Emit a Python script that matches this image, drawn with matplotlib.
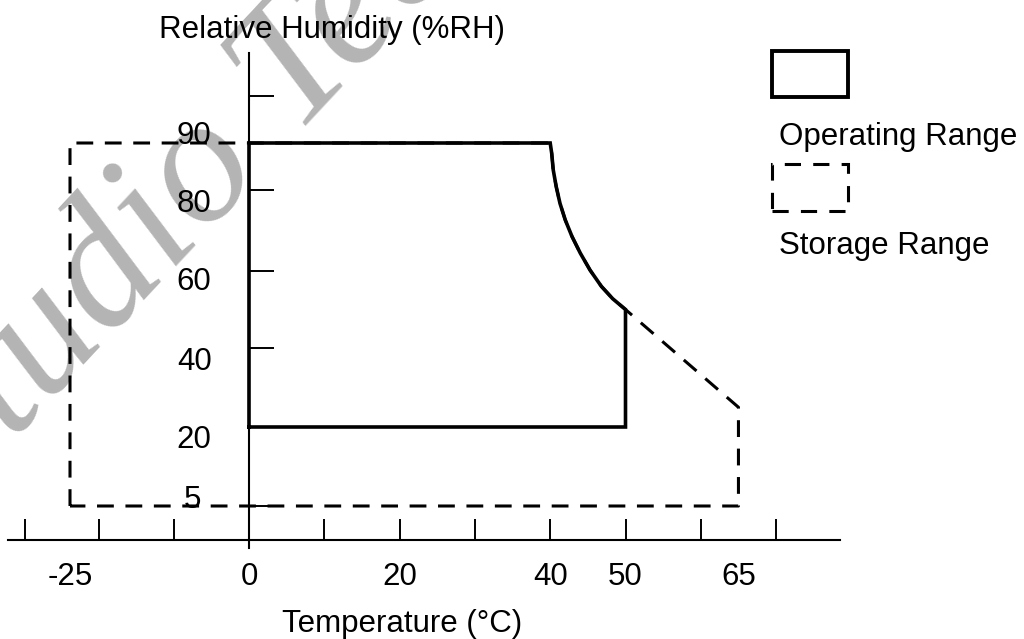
import matplotlib

matplotlib.use("Agg")
import matplotlib.pyplot as plt
import numpy as np
from matplotlib.patches import Rectangle
from matplotlib.transforms import ScaledTranslation

# bent edge between (40 C, 90 %RH) and (50 C, 50 %RH)
curve_temp = [40, 40.2, 40.4, 40.8, 41.3, 42.0, 42.9, 44.0, 45.3, 46.8, 48.3, 50]
curve_rh = [90, 87.8, 84.3, 80.7, 76.7, 72.6, 68.5, 64.4, 60.2, 56.0, 52.8, 50]

# operating range outline: temperature (degC) / relative humidity (%RH)
op_temp = [0, 0] + curve_temp + [50, 0]
op_rh = [20, 90] + curve_rh + [20, 20]

# storage range outline
st_temp = [-25, -25] + curve_temp + [65, 65, -25]
st_rh = [5, 90] + curve_rh + [25, 5, 5]

x_marks = [-30, -20, -10, 0, 10, 20, 30, 40, 50, 60, 70]
x_labels = [-25, 0, 20, 40, 50, 65]
y_marks = [5, 20, 40, 60, 80, 100]
y_labels = [5, 20, 40, 60, 80, 90]

W, H = 1024, 639

# the drawing is schematic, so the axes are only piecewise linear
X_KNOTS = [-40, -30, -25, -20, 0, 110]
X_PIX = [-50, 25, 70, 99, 249, 249 + 110 * 7.53]
Y_KNOTS = [-20, 0, 5, 20, 40, 60, 80, 90, 100, 130]
Y_PIX = [676, 540, 506, 427, 348, 271, 190, 143, 96, -45]
Y_UP = [H - p for p in Y_PIX]


def x_fwd(v):
    return np.interp(v, X_KNOTS, X_PIX)


def x_inv(p):
    return np.interp(p, X_PIX, X_KNOTS)


def y_fwd(v):
    return np.interp(v, Y_KNOTS, Y_UP)


def y_inv(p):
    return np.interp(p, Y_UP, Y_KNOTS)


plt.rcParams["font.family"] = ["Liberation Sans", "DejaVu Sans"]
FS = 22.5

fig = plt.figure(figsize=(W / 100, H / 100), dpi=100)
ax = fig.add_axes([0, 0, 1, 1])
ax.set_xscale("function", functions=(x_fwd, x_inv))
ax.set_yscale("function", functions=(y_fwd, y_inv))
ax.set_xlim(x_inv(0), x_inv(W))
ax.set_ylim(y_inv(0), y_inv(H))
ax.patch.set_visible(False)

# watermark
ax.text(205 / W, 1 - 171 / H, "Studio Tech", transform=ax.transAxes,
        family="Liberation Serif", style="italic", fontsize=130,
        color="#b4b4b4", rotation=47, rotation_mode="anchor",
        ha="center", va="center", zorder=0)

ax.plot(st_temp, st_rh, color="black", lw=2.2, dashes=(5.5, 3.8), zorder=2)
ax.plot(op_temp, op_rh, color="black", lw=2.6, solid_joinstyle="miter", zorder=3)

for s in ("top", "right"):
    ax.spines[s].set_visible(False)
ax.spines["left"].set_position(("data", 0))
ax.spines["bottom"].set_position(("data", 0))
ax.spines["left"].set_bounds(y_inv(H - 548), y_inv(H - 53))
ax.spines["bottom"].set_bounds(x_inv(8), x_inv(840))
for s in ("left", "bottom"):
    ax.spines[s].set_linewidth(1.5)
    ax.spines[s].set_zorder(2.5)

ax.xaxis.remove_overlapping_locs = False
ax.yaxis.remove_overlapping_locs = False
ax.set_xticks(x_labels, [str(v) for v in x_labels])
ax.set_xticks(x_marks, minor=True)
ax.set_yticks(y_labels, [str(v) for v in y_labels])
ax.set_yticks(y_marks, minor=True)
ax.tick_params(which="minor", direction="in", width=1.4, labelsize=0)
ax.tick_params(axis="x", which="minor", length=15)
ax.tick_params(axis="y", which="minor", length=18)
ax.tick_params(which="major", length=0, labelsize=FS)
ax.tick_params(axis="x", which="major", pad=16)
ax.tick_params(axis="y", which="major", pad=27)

# nudge the humidity labels the way they sit in the drawing
shift = {5: (-10, 10), 20: (0, -10), 40: (0, -10), 60: (0, -7), 80: (0, -10), 90: (0, 10)}
for val, lab in zip(y_labels, ax.get_yticklabels()):
    dx, dy = shift[val]
    lab.set_transform(lab.get_transform() + ScaledTranslation(dx / 100, dy / 100, fig.dpi_scale_trans))

ax.text(332 / W, 1 - 38 / H, "Relative Humidity (%RH)", transform=ax.transAxes,
        ha="center", va="baseline", fontsize=FS)
ax.text(402 / W, 1 - 632 / H, "Temperature (°C)", transform=ax.transAxes,
        ha="center", va="baseline", fontsize=FS)

# legend: box above its caption
fig.add_artist(Rectangle((772 / W, 1 - 97 / H), 76 / W, 46 / H, transform=fig.transFigure,
                         fill=False, lw=2.8, ec="black", joinstyle="miter"))
fig.add_artist(Rectangle((772 / W, 1 - 211 / H), 76 / W, 47 / H, transform=fig.transFigure,
                         fill=False, lw=2.2, ec="black", linestyle=(0, (5.3, 4))))
fig.text(779 / W, 1 - 145 / H, "Operating Range", ha="left", va="baseline", fontsize=FS)
fig.text(779 / W, 1 - 254 / H, "Storage Range", ha="left", va="baseline", fontsize=FS)

fig.savefig("out.png", dpi=100)
